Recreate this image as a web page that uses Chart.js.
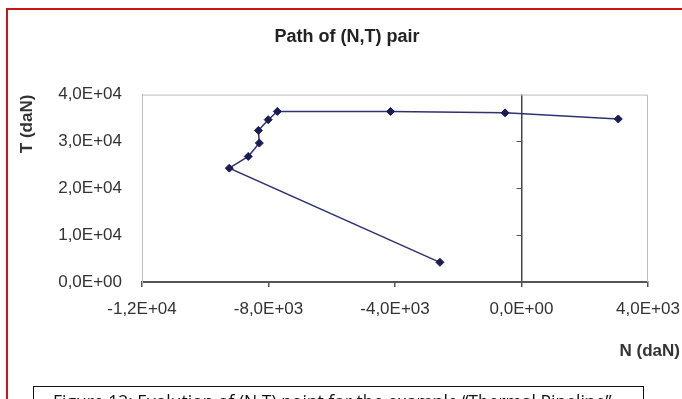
<!DOCTYPE html>
<html>
<head>
<meta charset="utf-8">
<script src="https://cdn.jsdelivr.net/npm/chart.js@4.4.1/dist/chart.umd.min.js"></script>
<style>
  html, body { margin:0; padding:0; background:#fff; overflow:hidden; width:682px; height:399px; }
  #wrap { position:relative; width:682px; height:399px; overflow:hidden; }
  #frame { position:absolute; left:6px; top:8px; width:700px; height:420px; border-top:2px solid #c8161d; border-left:2px solid #c8161d; }
  #chart { position:absolute; left:0; top:0; }
  #nlabel { position:absolute; right:2px; top:341px; line-height:20px; font:bold 17px "Liberation Sans", Arial, sans-serif; color:#333; }
  #caption { position:absolute; left:33px; top:386px; width:590px; height:40px; border:1px solid #111; padding-left:19px; padding-top:3px;
             font:17.5px "Open Sans", sans-serif; line-height:22px; color:#111; white-space:nowrap; overflow:hidden; }
</style>
</head>
<body>
<div id="wrap">
  <div id="frame"></div>
  <canvas id="chart" width="682" height="399"></canvas>
  <div id="nlabel"></div>
  <div id="caption"></div>
</div>
<script>
// ---- data ----
const nValues = [3060, -520, -4140, -7720, -8010, -8320, -8290, -8640, -9240, -2580];
const tValues = [34800, 36100, 36400, 36400, 34650, 32350, 29650, 26800, 24300, 4200];
const xTickLabels = ['-1,2E+04', '-8,0E+03', '-4,0E+03', '0,0E+00', '4,0E+03'];
const yTickLabels = ['0,0E+00', '1,0E+04', '2,0E+04', '3,0E+04', '4,0E+04'];
const chartTitle = 'Path of (N,T) pair';
const xTitle = 'N (daN)';
const yTitle = 'T (daN)';
const captionText = 'Figure 12: Evolution of (N,T) point for the example \u201cThermal Pipeline\u201d';

document.getElementById('nlabel').textContent = xTitle;
document.getElementById('caption').textContent = captionText;

const tickFont = { family: '"Liberation Sans", Arial, sans-serif', size: 17 };

const framePlugin = {
  id: 'frame',
  beforeDatasetsDraw(chart) {
    const { ctx, chartArea: { left, top, right, bottom }, scales: { x, y } } = chart;
    ctx.save();
    ctx.strokeStyle = '#bdbdbd';
    ctx.lineWidth = 1;
    ctx.beginPath();
    ctx.moveTo(left, top + 0.5);
    ctx.lineTo(right - 0.5, top + 0.5);
    ctx.lineTo(right - 0.5, bottom);
    ctx.stroke();
    const x0 = x.getPixelForValue(0);
    ctx.strokeStyle = '#555';
    y.ticks.forEach(t => {
      if (t.value > y.min && t.value < y.max) {
        const py = Math.round(y.getPixelForValue(t.value)) + 0.5;
        ctx.beginPath();
        ctx.moveTo(x0 - 5, py);
        ctx.lineTo(x0, py);
        ctx.stroke();
      }
    });
    ctx.restore();
  }
};

new Chart(document.getElementById('chart'), {
  type: 'scatter',
  data: {
    datasets: [{
      data: nValues.map((n, i) => ({ x: n, y: tValues[i] })),
      showLine: true,
      tension: 0,
      borderColor: '#2f3172',
      borderWidth: 1.5,
      pointStyle: 'rectRot',
      pointRadius: 4,
      pointBackgroundColor: '#1b1b55',
      pointBorderColor: '#1b1b55',
      pointBorderWidth: 1
    }]
  },
  options: {
    responsive: false,
    animation: false,
    layout: { padding: { left: 12, right: 0, top: 0, bottom: 0 } },
    plugins: {
      legend: { display: false },
      tooltip: { enabled: false },
      title: {
        display: true,
        text: chartTitle,
        color: '#222',
        font: { family: '"Liberation Sans", Arial, sans-serif', size: 18, weight: 'bold' },
        padding: { top: 26, bottom: 47 }
      }
    },
    scales: {
      x: {
        type: 'linear',
        position: 'bottom',
        min: -12000,
        max: 4000,
        ticks: {
          stepSize: 4000,
          autoSkip: false,
          maxRotation: 0,
          padding: 12,
          color: '#333',
          font: tickFont,
          callback: (v, i) => xTickLabels[i]
        },
        grid: {
          color: c => (c.tick && c.tick.value === 0) ? '#444' : 'rgba(0,0,0,0)',
          lineWidth: 1.5,
          tickLength: 5,
          tickColor: '#555',
          tickWidth: 1.5
        },
        border: { display: true, color: '#555', width: 2 },
        afterFit: s => { s.height = 117; s.paddingLeft = 0; s.paddingRight = 0; }
      },
      y: {
        type: 'linear',
        position: 'left',
        min: 0,
        max: 40000,
        ticks: {
          stepSize: 10000,
          padding: 20,
          color: '#333',
          font: tickFont,
          callback: (v, i) => yTickLabels[i]
        },
        grid: { drawTicks: false, color: 'rgba(0,0,0,0)' },
        border: { display: true, color: '#bdbdbd', width: 1 },
        title: {
          display: true,
          text: yTitle,
          align: 'end',
          color: '#333',
          font: { family: '"Liberation Sans", Arial, sans-serif', size: 17, weight: 'bold' },
          padding: { top: 5, bottom: 0 }
        },
        afterFit: s => { s.width = 130; s.paddingTop = 0; s.paddingBottom = 0; }
      },
      yR: {
        type: 'linear',
        position: 'right',
        display: true,
        ticks: { display: false },
        grid: { display: false },
        border: { display: false },
        afterFit: s => { s.width = 34; s.paddingTop = 0; s.paddingBottom = 0; }
      }
    }
  },
  plugins: [framePlugin]
});
</script>
</body>
</html>
